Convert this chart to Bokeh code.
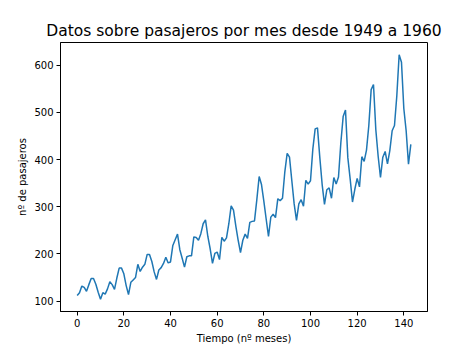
from bokeh.plotting import figure
from bokeh.models import FixedTicker, Range1d
from bokeh.embed import file_html
from bokeh.resources import INLINE

passengers = [
    112, 118, 132, 129, 121, 135, 148, 148, 136, 119, 104, 118,
    115, 126, 141, 135, 125, 149, 170, 170, 158, 133, 114, 140,
    145, 150, 178, 163, 172, 178, 199, 199, 184, 162, 146, 166,
    171, 180, 193, 181, 183, 218, 230, 242, 209, 191, 172, 194,
    196, 196, 236, 235, 229, 243, 264, 272, 237, 211, 180, 201,
    204, 188, 235, 227, 234, 264, 302, 293, 259, 229, 203, 229,
    242, 233, 267, 269, 270, 315, 364, 347, 312, 274, 237, 278,
    284, 277, 317, 313, 318, 374, 413, 405, 355, 306, 271, 306,
    315, 301, 356, 348, 355, 422, 465, 467, 404, 347, 305, 336,
    340, 318, 362, 348, 363, 435, 491, 505, 404, 359, 310, 337,
    360, 342, 406, 396, 420, 472, 548, 559, 463, 407, 362, 405,
    417, 391, 419, 461, 472, 535, 622, 606, 508, 461, 390, 432,
]
months = list(range(len(passengers)))
x_ticks = [0, 20, 40, 60, 80, 100, 120, 140]
y_ticks = [100, 200, 300, 400, 500, 600]

FONT = "DejaVu Sans"

xmin, xmax = min(months), max(months)
ymin, ymax = min(passengers), max(passengers)
xpad = (xmax - xmin) * 0.05
ypad = (ymax - ymin) * 0.05

p = figure(
    frame_width=367, frame_height=269,
    min_border_left=60, min_border_right=47,
    min_border_top=42, min_border_bottom=38,
    output_backend="svg", toolbar_location=None,
    x_range=Range1d(xmin - xpad, xmax + xpad),
    y_range=Range1d(ymin - ypad, ymax + ypad),
    title="Datos sobre pasajeros por mes desde 1949 a 1960",
)
p.line(months, passengers, line_color="#1f77b4", line_width=1.5)

p.title.align = "center"
p.title.text_font = FONT
p.title.text_font_size = "15.5px"
p.title.text_font_style = "normal"
p.title.text_color = "black"
p.title.offset = 0
p.title.standoff = 5

p.grid.visible = False
p.outline_line_color = "black"
p.outline_line_width = 1

for ax in (p.xaxis[0], p.yaxis[0]):
    ax.axis_line_color = "black"
    ax.axis_line_width = 1
    ax.major_tick_in = 0
    ax.major_tick_out = 4
    ax.major_tick_line_color = "black"
    ax.minor_tick_line_color = None
    ax.major_label_text_font = FONT
    ax.major_label_text_font_size = "10px"
    ax.major_label_text_color = "black"
    ax.axis_label_text_font = FONT
    ax.axis_label_text_font_size = "10px"
    ax.axis_label_text_font_style = "normal"
    ax.axis_label_text_color = "black"
    ax.major_label_standoff = 3
    ax.axis_label_standoff = 3

p.xaxis[0].ticker = FixedTicker(ticks=x_ticks)
p.yaxis[0].ticker = FixedTicker(ticks=y_ticks)
p.xaxis[0].axis_label = "Tiempo (nº meses)"
p.yaxis[0].axis_label = "nº de pasajeros"

p.background_fill_color = "white"
p.border_fill_color = "white"

open("out.html", "w").write(file_html(p, INLINE))
